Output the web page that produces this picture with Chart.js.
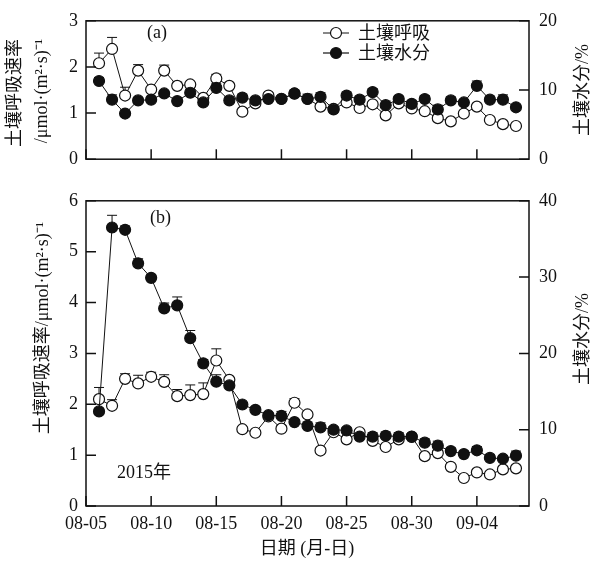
<!DOCTYPE html>
<html>
<head>
<meta charset="utf-8">
<script src="https://cdn.jsdelivr.net/npm/chart.js@4/dist/chart.umd.min.js"></script>
<style>
    body { margin: 0; background: #fff; }
    canvas { position: absolute; left: 0; }
    #chart-a { top: 0; }
    #chart-b { top: 180px; }
</style>
</head>
<body>
<canvas id="chart-a" width="592" height="180"></canvas>
<canvas id="chart-b" width="592" height="382"></canvas>
<script>
// days after 08-05
const days = [1, 2, 3, 4, 5, 6, 7, 8, 9, 10, 11, 12, 13, 14, 15, 16, 17, 18, 19, 20, 21, 22, 23, 24, 25, 26, 27, 28, 29, 30, 31, 32, 33];
const xTickVals = [0, 5, 10, 15, 20, 25, 30];
const xTickLabels = ['08-05', '08-10', '08-15', '08-20', '08-25', '08-30', '09-04'];

// panel (a)
const respA = [2.08, 2.39, 1.38, 1.92, 1.51, 1.92, 1.59, 1.62, 1.33, 1.75, 1.59, 1.03, 1.21, 1.38, 1.31, 1.42, 1.31, 1.14, 1.09, 1.23, 1.11, 1.19, 0.95, 1.21, 1.10, 1.04, 0.89, 0.82, 0.99, 1.14, 0.85, 0.76, 0.72];
const errRespA = [0.22, 0.25, 0.18, 0.13, 0.04, 0.12, 0.08, 0.04, 0.05, 0.09, 0.06, 0.04, 0.05, 0.06, 0.06, 0.06, 0.05, 0.06, 0.04, 0.05, 0.05, 0.05, 0.05, 0.05, 0.05, 0.05, 0.04, 0.04, 0.05, 0.04, 0.06, 0.06, 0.06];
const moistA = [11.3, 8.6, 6.6, 8.5, 8.6, 9.5, 8.4, 9.6, 8.2, 10.3, 8.5, 8.9, 8.5, 8.7, 8.7, 9.5, 8.7, 9.0, 7.2, 9.2, 8.6, 9.7, 7.8, 8.7, 8.0, 8.7, 7.2, 8.5, 8.2, 10.6, 8.6, 8.6, 7.5];
const errMoistA = [0.5, 0.7, 0.5, 0.4, 0.4, 0.4, 0.4, 0.5, 0.4, 0.6, 0.5, 0.5, 0.4, 0.4, 0.4, 0.5, 0.7, 0.6, 0.4, 0.5, 0.5, 0.5, 0.6, 0.4, 0.5, 0.5, 0.6, 0.5, 0.4, 0.7, 0.5, 0.7, 0.4];

// panel (b)
const respB = [2.10, 1.97, 2.50, 2.41, 2.54, 2.44, 2.16, 2.18, 2.20, 2.86, 2.48, 1.51, 1.44, 1.76, 1.52, 2.03, 1.80, 1.09, 1.45, 1.31, 1.45, 1.28, 1.16, 1.31, 1.36, 0.98, 1.04, 0.77, 0.55, 0.66, 0.62, 0.72, 0.74];
const errRespB = [0.23, 0.12, 0.10, 0.16, 0.09, 0.14, 0.13, 0.20, 0.22, 0.23, 0.05, 0.05, 0.05, 0.05, 0.06, 0.08, 0.05, 0.05, 0.05, 0.05, 0.05, 0.05, 0.05, 0.06, 0.06, 0.05, 0.05, 0.05, 0.05, 0.05, 0.06, 0.05, 0.05];
const moistB = [12.4, 36.5, 36.2, 31.8, 29.9, 25.9, 26.3, 22.0, 18.7, 16.3, 15.8, 13.3, 12.6, 11.9, 11.8, 11.0, 10.5, 10.3, 10.0, 9.9, 9.1, 9.1, 9.2, 9.1, 9.1, 8.3, 7.9, 7.2, 6.8, 7.3, 6.3, 6.2, 6.6];
const errMoistB = [0.4, 1.6, 0.5, 0.6, 0.4, 0.7, 1.1, 1.0, 0.5, 0.9, 0.4, 0.3, 0.4, 0.3, 0.6, 0.3, 0.5, 0.6, 0.4, 0.4, 0.6, 0.5, 0.5, 0.5, 0.4, 0.5, 0.6, 0.4, 0.4, 0.5, 0.4, 0.4, 0.6];

const FONT = '"Liberation Serif", "Times New Roman", "Noto Sans CJK SC", serif';
const INK = '#111';

Chart.defaults.font.family = FONT;
Chart.defaults.font.size = 18;
Chart.defaults.color = INK;

function points(vals) {
    return days.map((d, i) => ({x: d, y: vals[i]}));
}

function dataset(vals, err, filled, axis) {
    return {
        data: points(vals),
        err: err,
        yAxisID: axis,
        borderColor: INK,
        borderWidth: 1,
        tension: 0,
        pointRadius: 5.5,
        pointBorderWidth: 1.2,
        pointBorderColor: INK,
        pointBackgroundColor: filled ? INK : '#fff',
        clip: false
    };
}

function fixTicks(vals) {
    return function (scale) {
        scale.ticks = vals.map(v => ({value: v}));
    };
}

function text(ctx, str, x, y, rot, align) {
    ctx.save();
    ctx.translate(x, y);
    if (rot) ctx.rotate(rot);
    ctx.textAlign = align || 'center';
    ctx.textBaseline = 'middle';
    ctx.fillText(str, 0, 0);
    ctx.restore();
}

// frame, inward ticks, error bars and the loose labels
const extras = {
    id: 'extras',
    beforeDatasetsDraw(chart) {
        const ctx = chart.ctx;
        ctx.save();
        ctx.strokeStyle = INK;
        ctx.lineWidth = 1;
        chart.data.datasets.forEach((ds, i) => {
            const meta = chart.getDatasetMeta(i);
            const scale = chart.scales[ds.yAxisID];
            meta.data.forEach((pt, j) => {
                const top = scale.getPixelForValue(ds.data[j].y + ds.err[j]);
                ctx.beginPath();
                ctx.moveTo(pt.x, pt.y);
                ctx.lineTo(pt.x, top);
                ctx.moveTo(pt.x - 5, top);
                ctx.lineTo(pt.x + 5, top);
                ctx.stroke();
            });
        });
        ctx.restore();
    },
    afterDraw(chart, args, opts) {
        const ctx = chart.ctx;
        const a = chart.chartArea;
        ctx.save();
        ctx.strokeStyle = INK;
        ctx.lineWidth = 1.5;
        ctx.strokeRect(a.left, a.top, a.right - a.left, a.bottom - a.top);

        const tl = 10;
        ctx.beginPath();
        chart.scales.x.ticks.forEach(t => {
            const px = chart.scales.x.getPixelForValue(t.value);
            ctx.moveTo(px, a.bottom);
            ctx.lineTo(px, a.bottom - tl);
        });
        chart.scales.y.ticks.forEach(t => {
            const py = chart.scales.y.getPixelForValue(t.value);
            ctx.moveTo(a.left, py);
            ctx.lineTo(a.left + tl, py);
        });
        chart.scales.y2.ticks.forEach(t => {
            const py = chart.scales.y2.getPixelForValue(t.value);
            ctx.moveTo(a.right, py);
            ctx.lineTo(a.right - tl, py);
        });
        ctx.stroke();

        ctx.fillStyle = INK;
        ctx.font = '18px ' + FONT;
        (opts.labels || []).forEach(l => text(ctx, l.text, l.x, l.y, l.rot, l.align));

        if (opts.legend) {
            ctx.lineWidth = 1;
            opts.legend.forEach(l => {
                ctx.beginPath();
                ctx.moveTo(l.x, l.y);
                ctx.lineTo(l.x + 26, l.y);
                ctx.stroke();
                ctx.beginPath();
                ctx.arc(l.x + 13, l.y, 5.5, 0, Math.PI * 2);
                ctx.fillStyle = l.filled ? INK : '#fff';
                ctx.fill();
                ctx.lineWidth = 1.2;
                ctx.stroke();
                ctx.fillStyle = INK;
                text(ctx, l.text, l.x + 35, l.y + 1, 0, 'left');
            });
        }
        ctx.restore();
    }
};

function makeChart(id, opt) {
    return new Chart(document.getElementById(id), {
        type: 'line',
        data: {
            datasets: [
                dataset(opt.moist, opt.errMoist, true, 'y2'),
                dataset(opt.resp, opt.errResp, false, 'y')
            ]
        },
        options: {
            responsive: false,
            animation: false,
            layout: {padding: {top: opt.top, left: 0, right: 0, bottom: 0}},
            plugins: {
                legend: {display: false},
                tooltip: {enabled: false},
                extras: {labels: opt.labels, legend: opt.legend}
            },
            scales: {
                x: {
                    type: 'linear',
                    min: 0,
                    max: 34,
                    afterBuildTicks: fixTicks(xTickVals),
                    afterFit: s => { s.height = opt.xHeight; },
                    grid: {display: false, drawTicks: false},
                    border: {display: false},
                    ticks: {
                        display: opt.xLabels,
                        padding: 7,
                        maxRotation: 0,
                        callback: v => xTickLabels[xTickVals.indexOf(v)]
                    }
                },
                y: {
                    position: 'left',
                    min: 0,
                    max: opt.yMax,
                    afterBuildTicks: fixTicks(opt.yTicks),
                    afterFit: s => { s.width = 86; },
                    grid: {display: false, drawTicks: false},
                    border: {display: false},
                    ticks: {padding: 8}
                },
                y2: {
                    position: 'right',
                    min: 0,
                    max: opt.y2Max,
                    afterBuildTicks: fixTicks(opt.y2Ticks),
                    afterFit: s => { s.width = 63; },
                    grid: {display: false, drawTicks: false},
                    border: {display: false},
                    ticks: {padding: 10}
                }
            }
        },
        plugins: [extras]
    });
}

const up = -Math.PI / 2;

makeChart('chart-a', {
    resp: respA, errResp: errRespA, moist: moistA, errMoist: errMoistA,
    top: 14, xHeight: 8, xLabels: false,
    yMax: 3, yTicks: [0, 1, 2, 3], y2Max: 20, y2Ticks: [0, 10, 20],
    labels: [
        {text: '(a)', x: 147, y: 33, align: 'left'},
        {text: '土壤呼吸速率', x: 15, y: 93, rot: up},
        {text: '/μmol·(m²·s)⁻¹', x: 42, y: 91, rot: up},
        {text: '土壤水分/%', x: 583, y: 90, rot: up}
    ],
    legend: [
        {text: '土壤呼吸', x: 323, y: 33, filled: false},
        {text: '土壤水分', x: 323, y: 53, filled: true}
    ]
});

makeChart('chart-b', {
    resp: respB, errResp: errRespB, moist: moistB, errMoist: errMoistB,
    top: 9, xHeight: 56, xLabels: true,
    yMax: 6, yTicks: [0, 1, 2, 3, 4, 5, 6], y2Max: 40, y2Ticks: [0, 10, 20, 30, 40],
    labels: [
        {text: '(b)', x: 150, y: 38, align: 'left'},
        {text: '2015年', x: 117, y: 293, align: 'left'},
        {text: '土壤呼吸速率/μmol·(m²·s)⁻¹', x: 43, y: 148, rot: up},
        {text: '土壤水分/%', x: 583, y: 159, rot: up},
        {text: '日期 (月-日)', x: 307, y: 369}
    ]
});
</script>
</body>
</html>
